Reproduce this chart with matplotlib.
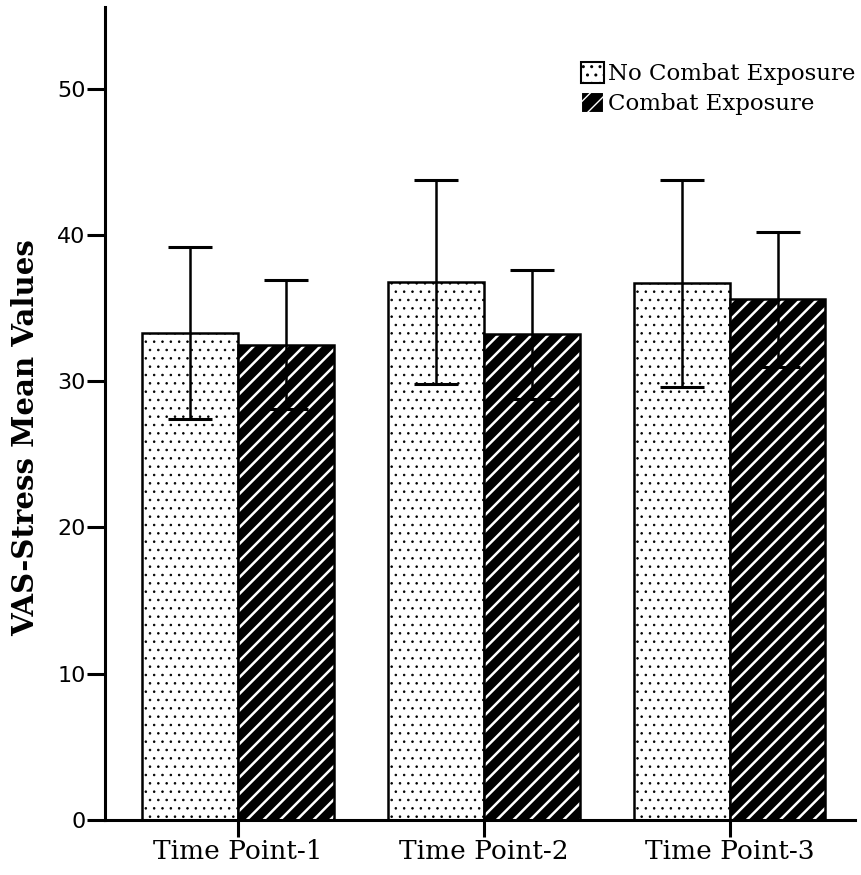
import matplotlib.pyplot as plt
import numpy as np

categories = ['Time Point-1', 'Time Point-2', 'Time Point-3']
no_combat = [33.3, 36.8, 36.7]
no_combat_err = [5.9, 7.0, 7.1]
combat = [32.5, 33.2, 35.6]
combat_err = [4.4, 4.4, 4.6]

serif = 'DejaVu Serif'


def hatch_lw(bars, lw):
    for p in bars:
        if hasattr(p, 'set_hatch_linewidth'):
            p.set_hatch_linewidth(lw)


fig = plt.figure(figsize=(8.61, 8.75), dpi=100)
ax = fig.add_axes([0.122, 0.063, 0.871, 0.929])

x = np.arange(len(categories))
w = 0.39

# light bars: white with small dots
with plt.rc_context({'hatch.linewidth': 0.6}):
    b1 = ax.bar(x - w / 2, no_combat, w, color='white', edgecolor='black', hatch='..', linewidth=0)
hatch_lw(b1, 0.6)
ax.bar(x - w / 2, no_combat, w, color='none', edgecolor='black', linewidth=1.8)
# dark bars: black with white diagonal stripes
with plt.rc_context({'hatch.linewidth': 1.8}):
    b2 = ax.bar(x + w / 2, combat, w, color='black', edgecolor='white', hatch='//', linewidth=0)
hatch_lw(b2, 1.8)
ax.bar(x + w / 2, combat, w, color='none', edgecolor='black', linewidth=1.8)

ax.errorbar(x - w / 2, no_combat, yerr=no_combat_err, fmt='none', ecolor='black',
            elinewidth=1.8, capsize=16, capthick=2.2)
ax.errorbar(x + w / 2, combat, yerr=combat_err, fmt='none', ecolor='black',
            elinewidth=1.8, capsize=16, capthick=2.2)

ax.set_xlim(-0.54, 2.51)
ax.set_ylim(0, 55.6)
ax.set_yticks([0, 10, 20, 30, 40, 50])
ax.set_xticks(x)
ax.set_xticklabels(categories, fontfamily=serif, fontsize=19)
ax.tick_params(axis='y', length=13, width=2.2, labelsize=16, pad=1)
ax.tick_params(axis='x', length=12, width=2.2, pad=2)

ax.spines['top'].set_visible(False)
ax.spines['right'].set_visible(False)
ax.spines['left'].set_linewidth(2.2)
ax.spines['bottom'].set_linewidth(2.2)

ax.set_ylabel('VAS-Stress Mean Values', fontfamily=serif, fontsize=21,
              fontweight='bold')
ax.yaxis.set_label_coords(-0.087, 0.47)

h1 = plt.Rectangle((0, 0), 1, 1, facecolor='white', edgecolor='black', hatch='..', linewidth=1.5)
h2 = plt.Rectangle((0, 0), 1, 1, facecolor='black', edgecolor='white', hatch='//', linewidth=1.5)
ax.legend([h1, h2], ['No Combat Exposure', 'Combat Exposure'], loc='upper right',
          bbox_to_anchor=(1.0, 0.932), frameon=False, prop={'family': serif, 'size': 16.5},
          handlelength=1.0, handleheight=1.0, handletextpad=0.15, labelspacing=0.3,
          borderaxespad=0, borderpad=0)

fig.savefig('out.png', dpi=100)
